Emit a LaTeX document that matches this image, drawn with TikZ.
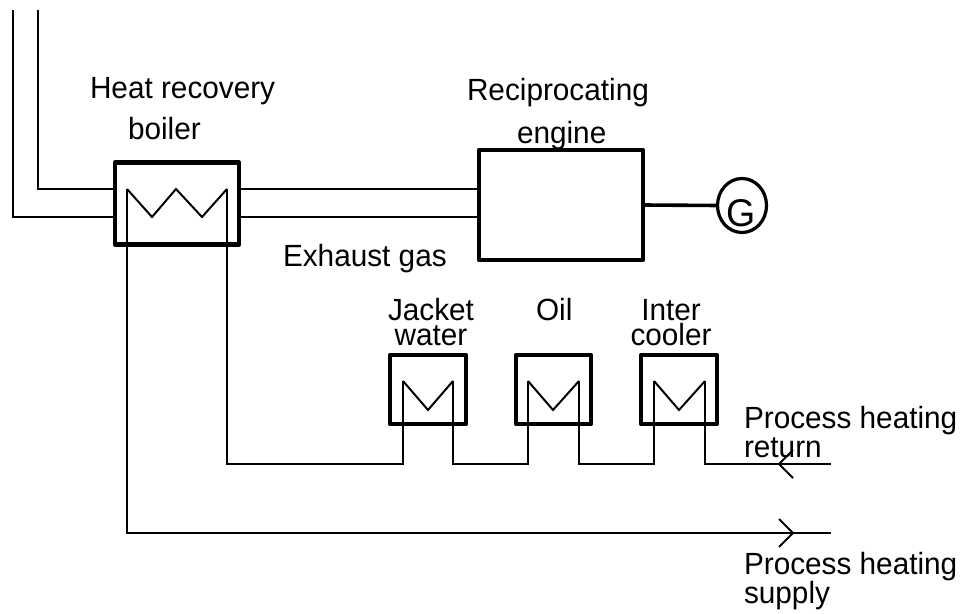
\documentclass[tikz,border=0pt]{standalone}
\usepackage{fontspec}
\setmainfont{Liberation Sans}[FakeStretch=0.97]
\usetikzlibrary{shapes.geometric}
\tikzset{
  heavybox/.style={draw=black,line width=3.3pt,rectangle,inner sep=0pt,outer sep=0pt,line join=round},
  thinline/.style={draw=black,line width=1.5pt,line join=miter},
  label text/.style={anchor=base west,inner sep=0pt,outer sep=0pt,font=\fontsize{23}{23}\selectfont,text=black},
  tight label/.style={anchor=base,align=center,inner sep=0pt,outer sep=0pt,font=\fontsize{23}{18.75}\selectfont,text=black},
}
\begin{document}
\begin{tikzpicture}[x=0.75pt,y=-0.75pt]
\useasboundingbox (0,0) rectangle (962,613);
% equipment
\node[heavybox,minimum width=124*0.75pt,minimum height=82*0.75pt] (boiler) at (177,203.5) {};
\node[heavybox,minimum width=164*0.75pt,minimum height=110*0.75pt] (engine) at (561,205) {};
\node[heavybox,minimum width=76*0.75pt,minimum height=69*0.75pt] (jacket) at (428,389.5) {};
\node[heavybox,minimum width=75*0.75pt,minimum height=69*0.75pt] (oil) at (553.5,389.5) {};
\node[heavybox,minimum width=76*0.75pt,minimum height=69*0.75pt] (inter) at (679,389.5) {};
\node[draw=black,line width=2.4pt,ellipse,inner sep=0pt,outer sep=0pt,minimum width=49*0.75pt,minimum height=54*0.75pt] (gen) at (742,205.5) {};
\node[inner sep=0pt,anchor=base,font=\fontsize{29}{29}\selectfont] (gtext) at (741,226) {G};
% free ends and pass points
\coordinate (a1) at (13,10);
\coordinate (a2) at (38,10);
\coordinate (b1) at (114,217);
\coordinate (b2) at (114,189);
\coordinate (c1) at (240,189);
\coordinate (c2) at (240,217);
\coordinate (d1) at (477,189);
\coordinate (d2) at (477,217);
\coordinate (retEnd) at (831,464);
\coordinate (supEnd) at (831,533);
\coordinate (bl) at (127,189);
\coordinate (br) at (227,189);
\coordinate (jl) at (403,381);
\coordinate (jr) at (453,381);
\coordinate (ol) at (528,381);
\coordinate (or) at (579,381);
\coordinate (il) at (654,381);
\coordinate (ir) at (705,381);
% flue / exhaust connectors
\draw[thinline] (a1) |- (b1);
\draw[thinline] (a2) |- (b2);
\draw[thinline] (c1) -- (d1);
\draw[thinline] (c2) -- (d2);
\draw[line width=2.7pt] (engine.east) -- (gen.west);
% boiler coil
\draw[thinline] (bl) -- (152,217) -- (176,189) -- (202,217) -- (br);
% exchanger coils
\draw[thinline] (jl) -- (428,410) -- (jr);
\draw[thinline] (ol) -- (553,410) -- (or);
\draw[thinline] (il) -- (679,410) -- (ir);
% process water circuit
\draw[thinline] (br) -- (227,464) -- (403,464) -- (jl);
\draw[thinline] (jr) -- (453,464) -- (528,464) -- (ol);
\draw[thinline] (or) -- (579,464) -- (654,464) -- (il);
\draw[thinline] (ir) -- (705,464) -- (retEnd);
\draw[thinline] (bl) -- (127,533) -- (supEnd);
% arrowheads
\draw[thinline] (793,450) -- (779,464) -- (793,478);
\draw[thinline] (779,519) -- (793,533) -- (779,547);
% labels
\node[label text] (t1) at (90,99) {Heat recovery};
\node[label text] (t2) at (128,140) {boiler};
\node[label text] (t3) at (467,101) {Reciprocating};
\node[label text] (t4) at (517,143) {engine};
\node[label text] (t5) at (283,266) {Exhaust gas};
\node[tight label] (t6) at (431,345) {Jacket\\water};
\node[label text] (t8) at (536,320) {Oil};
\node[tight label] (t9) at (671,345) {Inter\\cooler};
\node[label text] (t11) at (744,428) {Process heating};
\node[label text] (t12) at (744,457) {return};
\node[label text] (t13) at (744,574) {Process heating};
\node[label text] (t14) at (744,603) {supply};
\end{tikzpicture}
\end{document}
